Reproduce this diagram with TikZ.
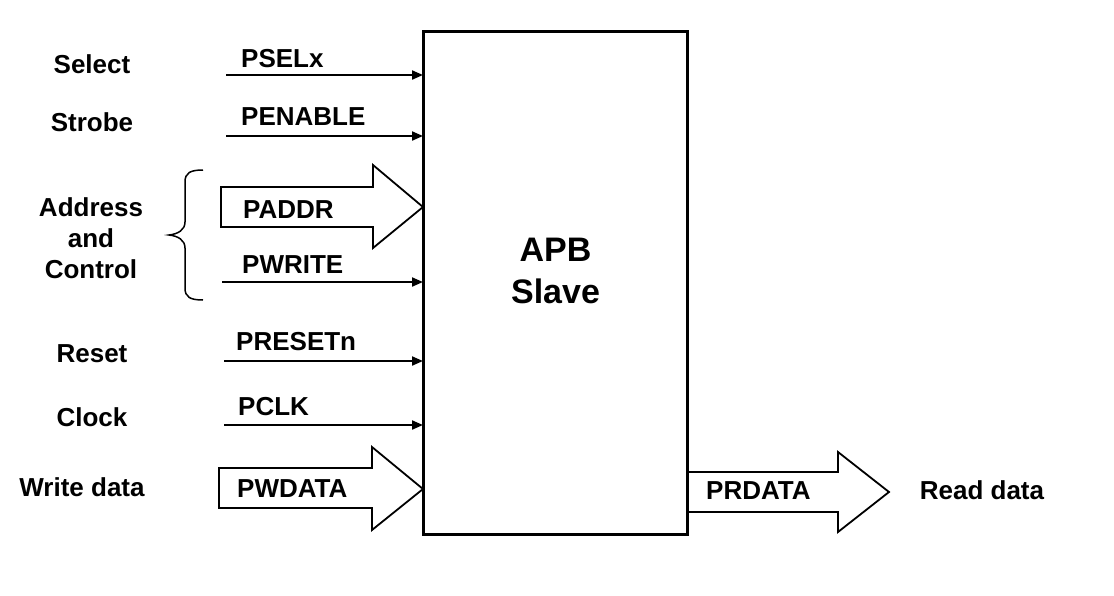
\documentclass[tikz,border=0pt]{standalone}
\usepackage{fontspec}
\setmainfont{Liberation Sans}
\usetikzlibrary{arrows.meta}
\begin{document}
\begin{tikzpicture}[x=1pt,y=-1pt,
  lbl/.style={font=\fontsize{26}{31}\selectfont\bfseries, inner sep=0pt, align=center},
  sig/.style={font=\fontsize{26}{31}\selectfont\bfseries, inner sep=0pt, anchor=west},
  wire/.style={line width=2pt, -{Triangle[length=11pt,width=9pt]}},
  bus/.style={line width=1.8pt, fill=white, line join=miter}
]
\useasboundingbox (0,0) rectangle (1114,595);
% slave box
\node[draw, line width=2pt, minimum width=263pt, minimum height=502pt, inner sep=0pt] (slave) at (555.5,283) {};
\node[font=\fontsize{34}{42}\selectfont\bfseries, align=center, inner sep=0pt] (title) at (slave.center |- 0,271) {APB\\Slave};

% left category labels
\node[lbl] (sel) at (92,64) {Select};
\node[lbl] (stb) at (92,122) {Strobe};
\node[lbl] (adc) at (91,238) {Address\\and\\Control};
\node[lbl] (rst) at (92,354) {Reset};
\node[lbl] (clk) at (92,417) {Clock};
\node[lbl] (wd) at (82,487) {Write data};
\node[lbl] (rd) at (982,490) {Read data};

% brace
\draw[line width=1.5pt] (203,170) .. controls (190,170) and (185,173) .. (185,182)
  -- (185,222) .. controls (185,230) and (178,234) .. (169,235)
  .. controls (178,236) and (185,240) .. (185,248)
  -- (185,288) .. controls (185,297) and (190,300) .. (203,300);

% single wires
\coordinate (s1) at (226,75);
\coordinate (s2) at (226,136);
\coordinate (s3) at (222,282);
\coordinate (s4) at (224,361);
\coordinate (s5) at (224,425);
\draw[wire] (s1) -- (slave.west |- s1);
\draw[wire] (s2) -- (slave.west |- s2);
\draw[wire] (s3) -- (slave.west |- s3);
\draw[wire] (s4) -- (slave.west |- s4);
\draw[wire] (s5) -- (slave.west |- s5);

\node[sig] (psel) at (241,59) {PSELx};
\node[sig] (pen) at (241,117) {PENABLE};
\node[sig] (pwr) at (242,265) {PWRITE};
\node[sig] (prs) at (236,342) {PRESETn};
\node[sig] (pck) at (238,407) {PCLK};

% bus arrows
\draw[bus] (221,187) -- (373,187) -- (373,165) -- (423,207) -- (373,248) -- (373,227) -- (221,227) -- cycle;
\node[sig] (paddr) at (243,210) {PADDR};
\draw[bus] (219,468) -- (372,468) -- (372,447) -- (423,489) -- (372,530) -- (372,508) -- (219,508) -- cycle;
\node[sig] (pwd) at (237,489) {PWDATA};
\draw[bus] (687,472) -- (838,472) -- (838,452) -- (889,492) -- (838,532) -- (838,512) -- (687,512) -- cycle;
\node[sig] (prd) at (706,491) {PRDATA};
\draw[line width=2pt] (slave.north west) rectangle (slave.south east);
\end{tikzpicture}
\end{document}
